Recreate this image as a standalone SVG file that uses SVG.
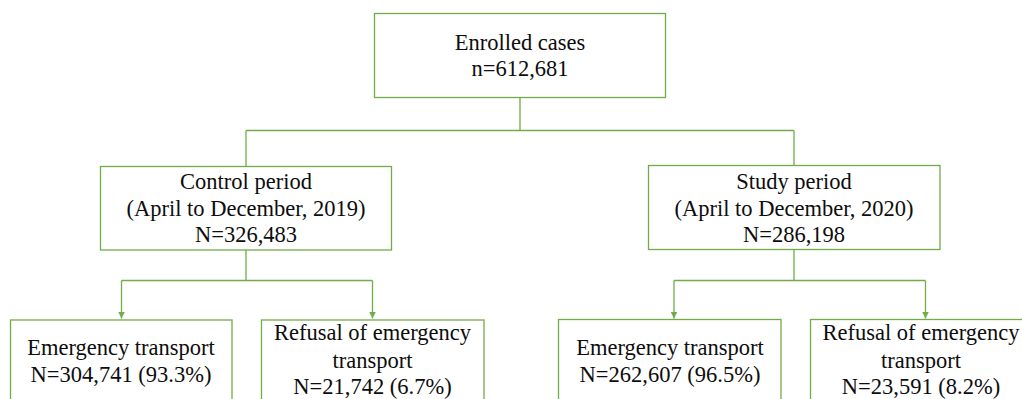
<svg xmlns="http://www.w3.org/2000/svg" width="1022" height="399" viewBox="0 0 1022 399">
<style>
.box{fill:#ffffff;stroke:#70AD47;stroke-width:1.3}
.ln{fill:none;stroke:#70AD47;stroke-width:1.3}
text{font-family:"Liberation Serif","Times New Roman",serif;font-size:22.5px;fill:#0d0d0d;text-anchor:middle}
</style>
<defs>
<marker id="ah" viewBox="0 0 10 10" refX="10" refY="5" markerWidth="7" markerHeight="7" markerUnits="userSpaceOnUse" orient="auto">
<path d="M0,0 L10,5 L0,10 Z" fill="#70AD47"/>
</marker>
</defs>
<rect width="1022" height="399" fill="#ffffff"/>
<g id="connectors">
<path class="ln" d="M520,97.5 V130.5 M246,130.5 H794 M246,130.5 V166.5 M794,130.5 V165.5"/>
<path class="ln" d="M246,250 V280.5 M121.5,280.5 H372.5"/>
<path class="ln" d="M794,249.5 V280.5 M674,280.5 H925.5"/>
<path class="ln" d="M121.5,280.5 V318.5" marker-end="url(#ah)"/>
<path class="ln" d="M372.5,280.5 V318.5" marker-end="url(#ah)"/>
<path class="ln" d="M674,280.5 V318.5" marker-end="url(#ah)"/>
<path class="ln" d="M925.5,280.5 V318.5" marker-end="url(#ah)"/>
</g>
<g id="enrolled">
<rect class="box" x="374.5" y="13.5" width="291" height="84"/>
<text x="520" y="50">Enrolled cases</text>
<text x="520" y="76">n=612,681</text>
</g>
<g id="control">
<rect class="box" x="100.5" y="166.5" width="291" height="83.5"/>
<text x="246" y="189">Control period</text>
<text x="246" y="215.5">(April to December, 2019)</text>
<text x="246" y="242">N=326,483</text>
</g>
<g id="study">
<rect class="box" x="648.5" y="165.5" width="291.5" height="84"/>
<text x="794" y="189">Study period</text>
<text x="794" y="215.5">(April to December, 2020)</text>
<text x="794" y="242">N=286,198</text>
</g>
<g id="control-transport">
<rect class="box" x="10.5" y="320" width="221.5" height="100"/>
<text x="121" y="355">Emergency transport</text>
<text x="121" y="381.5">N=304,741 (93.3%)</text>
</g>
<g id="control-refusal">
<rect class="box" x="261.5" y="320" width="222.5" height="100"/>
<text x="372.5" y="340">Refusal of emergency</text>
<text x="372.5" y="367.5">transport</text>
<text x="372.5" y="394">N=21,742 (6.7%)</text>
</g>
<g id="study-transport">
<rect class="box" x="558.5" y="319.5" width="222.5" height="100"/>
<text x="670" y="355">Emergency transport</text>
<text x="670" y="381.5">N=262,607 (96.5%)</text>
</g>
<g id="study-refusal">
<rect class="box" x="810.5" y="319.5" width="230" height="100"/>
<text x="921" y="340">Refusal of emergency</text>
<text x="921" y="367.5">transport</text>
<text x="921" y="394">N=23,591 (8.2%)</text>
</g>
</svg>
